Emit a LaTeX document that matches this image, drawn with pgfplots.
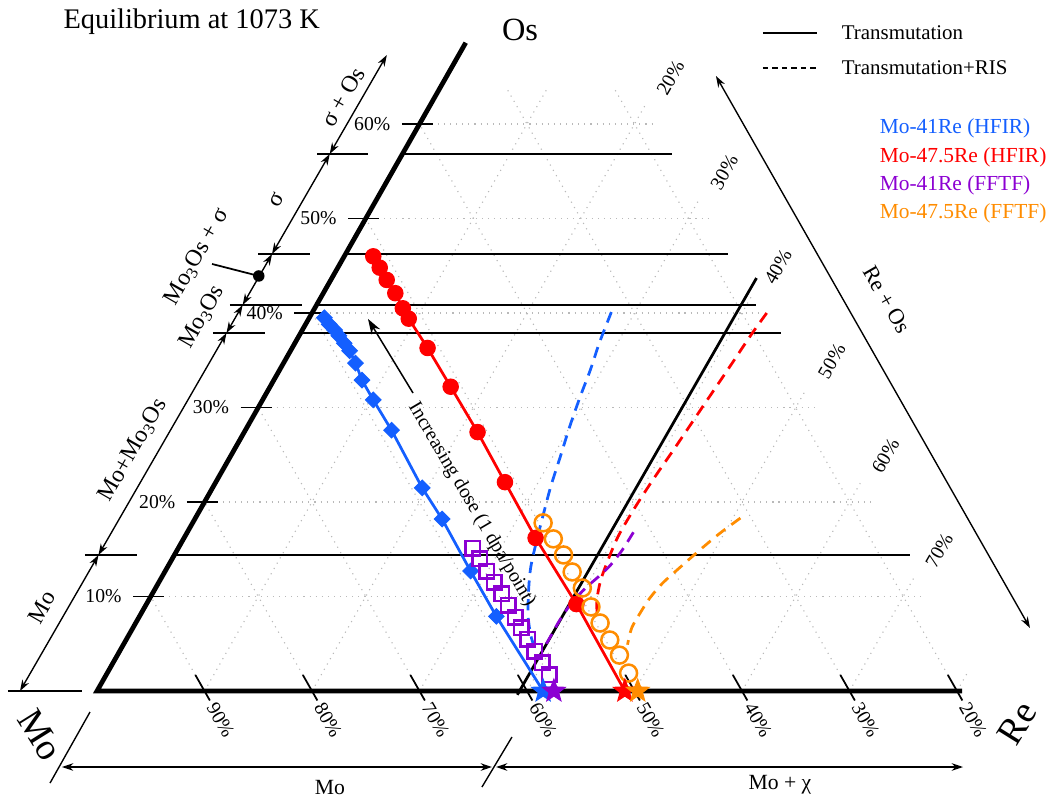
\documentclass[border=0pt]{standalone}
\usepackage{fontspec}
\setmainfont{Liberation Serif}
\usepackage{pgfplots}
\pgfplotsset{compat=1.18}
\usepackage{pgfplotstable}
\usetikzlibrary{arrows.meta}

\definecolor{cB}{RGB}{20,95,255}
\definecolor{cR}{RGB}{255,0,0}
\definecolor{cP}{RGB}{140,0,210}
\definecolor{cO}{RGB}{255,140,0}
\newcommand\fs[1]{\fontsize{#1}{#1}\selectfont}

\pgfdeclareplotmark{fstar}{%
  \pgfpathmoveto{\pgfpointpolar{90}{\pgfplotmarksize}}%
  \pgfpathlineto{\pgfpointpolar{126}{0.42\pgfplotmarksize}}%
  \pgfpathlineto{\pgfpointpolar{162}{\pgfplotmarksize}}%
  \pgfpathlineto{\pgfpointpolar{198}{0.42\pgfplotmarksize}}%
  \pgfpathlineto{\pgfpointpolar{234}{\pgfplotmarksize}}%
  \pgfpathlineto{\pgfpointpolar{270}{0.42\pgfplotmarksize}}%
  \pgfpathlineto{\pgfpointpolar{306}{\pgfplotmarksize}}%
  \pgfpathlineto{\pgfpointpolar{342}{0.42\pgfplotmarksize}}%
  \pgfpathlineto{\pgfpointpolar{18}{\pgfplotmarksize}}%
  \pgfpathlineto{\pgfpointpolar{54}{0.42\pgfplotmarksize}}%
  \pgfpathclose
  \pgfusepathqfillstroke
}

\pgfplotsset{/pgfplots/table/tern/.style={x expr=\thisrow{Re}+0.5*\thisrow{Os}, y=Os}}
\tikzset{
  grd/.style={gray!55, dotted, line width=0.45bp},
  ann/.style={black, line width=0.55bp},
  dbl/.style={ann, {Stealth[length=4.5bp,width=3bp]}-{Stealth[length=4.5bp,width=3bp]}},
  dsh/.style={line width=1.1bp, dash pattern=on 4.5bp off 3bp},
}

% Ternary compositions (at.%): Re, Os (Mo = 100 - Re - Os)
\pgfplotstableread{
Re Os
1.4 39.5
2.2 38.8
3.0 38.2
3.7 37.6
4.6 36.8
5.5 36.0
6.7 34.7
8.2 32.9
10.3 30.8
13.6 27.6
19.5 21.5
23.0 18.2
28.4 12.7
33.2 7.9
41.5 0
}\tabBH
\pgfplotstableread{
Re Os
2.7 46.0
3.9 44.8
5.2 43.5
6.7 42.1
8.2 40.5
9.3 39.4
12.6 36.3
16.8 32.2
21.7 27.4
26.9 22.1
32.7 16.2
40.0 9.2
49.1 0
}\tabRH
\pgfplotstableread{
Re Os
27.4 15.1
28.6 14.0
29.9 12.7
31.2 11.5
32.5 10.3
33.7 9.1
35.0 7.8
36.1 6.7
37.3 5.5
38.6 4.2
39.9 3.0
41.2 1.7
42.5 0
}\tabPF
\pgfplotstableread{
Re Os
32.6 17.8
34.4 16.1
36.2 14.4
37.9 12.6
39.7 10.9
41.5 8.9
43.2 7.2
45.0 5.4
46.7 3.8
48.5 1.9
50.3 0
}\tabOF
\pgfplotstableread{
Re Os
27.8 40.1
28.3 36.9
28.9 34.0
29.4 31.0
30.0 27.9
30.7 24.8
31.4 21.6
32.2 18.6
33.0 15.7
33.8 13.1
34.8 10.7
36.1 8.0
37.4 5.9
38.4 4.6
}\tabBD
\pgfplotstableread{
Re Os
42.3 40.0
42.0 37.7
41.7 34.3
41.3 30.1
40.9 25.8
40.6 23.0
40.4 20.6
40.3 18.6
40.3 16.3
40.6 13.9
41.0 11.7
41.7 9.6
42.7 7.7
}\tabRD
\pgfplotstableread{
Re Os
41.5 16.8
41.4 14.9
41.1 13.3
40.6 12.1
40.0 10.9
39.5 9.4
39.3 7.5
39.3 5.7
39.3 4.3
}\tabPD
\pgfplotstableread{
Re Os
50.7 18.3
49.6 16.7
48.6 14.9
47.7 13.1
46.9 11.4
46.5 9.8
46.4 8.3
46.4 6.7
46.9 4.9
}\tabOD

\begin{document}
\begin{tikzpicture}
\begin{axis}[
  width=420bp, height=318bp, scale only axis,
  xmin=-9.023, xmax=88.651, ymin=-11.005, ymax=73.122,
  hide axis, clip=false,
]
% ---- dotted grid ----
\draw[grd] (5,10)--(77,10); \draw[grd] (10,20)--(72,20); \draw[grd] (15,30)--(67,30);
\draw[grd] (20,40)--(62,40); \draw[grd] (25,50)--(57,50); \draw[grd] (30,60)--(52,60);
\draw[grd] (10,0)--(42,64); \draw[grd] (20,0)--(51,62); \draw[grd] (30,0)--(56,52);
\draw[grd] (40,0)--(61,42); \draw[grd] (50,0)--(66,32); \draw[grd] (60,0)--(71,22);
\draw[grd] (70,0)--(76,12); \draw[grd] (80,0)--(81,2);
\draw[grd] (10,0)--(5,10); \draw[grd] (20,0)--(10,20); \draw[grd] (30,0)--(15,30);
\draw[grd] (40,0)--(20,40); \draw[grd] (50,0)--(25,50); \draw[grd] (60,0)--(30,60);
\draw[grd] (70,0)--(38,64); \draw[grd] (80,0)--(48,64);

% ---- tie lines and phase boundary ----
\addplot[black, line width=1.1bp] coordinates {(28.415,56.83) (53.49,56.83)};
\addplot[black, line width=1.1bp] coordinates {(23.12,46.24) (58.70,46.24)};
\addplot[black, line width=1.1bp] coordinates {(20.425,40.85) (61.30,40.85)};
\addplot[black, line width=1.1bp] coordinates {(18.94,37.88) (63.63,37.88)};
\addplot[black, line width=1.1bp] coordinates {(7.195,14.39) (75.63,14.39)};
\addplot[black, line width=1.1bp] coordinates {(39.1,-0.4) (61.35,43.7)};

% ---- triangle edges ----
\draw[line width=1.9bp, line join=miter] (34.3,68.6) -- (0,0) -- (80.47,0);
% left ticks
\draw[ann, line width=0.7bp] (3.35,10)--(6.25,10); \draw[ann, line width=0.7bp] (8.35,20)--(11.25,20);
\draw[ann, line width=0.7bp] (13.35,30)--(16.25,30); \draw[ann, line width=0.7bp] (18.35,40)--(21.25,40);
\draw[ann, line width=0.7bp] (23.35,50)--(26.25,50); \draw[ann, line width=0.7bp] (28.35,60)--(31.25,60);
\node[anchor=east, font=\fs{7.9}] at (3.1,10) {10\%};
\node[anchor=east, font=\fs{7.9}] at (8.1,20) {20\%};
\node[anchor=east, font=\fs{7.9}] at (13.1,30) {30\%};
\node[anchor=east, font=\fs{7.9}] at (18.1,40) {40\%};
\node[anchor=east, font=\fs{7.9}] at (23.1,50) {50\%};
\node[anchor=east, font=\fs{7.9}] at (28.1,60) {60\%};
% bottom ticks
\draw[ann, line width=0.7bp] (9.15,1.7)--(10.5,-1.0); \draw[ann, line width=0.7bp] (19.15,1.7)--(20.5,-1.0);
\draw[ann, line width=0.7bp] (29.15,1.7)--(30.5,-1.0); \draw[ann, line width=0.7bp] (39.15,1.7)--(40.5,-1.0);
\draw[ann, line width=0.7bp] (49.15,1.7)--(50.5,-1.0); \draw[ann, line width=0.7bp] (59.15,1.7)--(60.5,-1.0);
\draw[ann, line width=0.7bp] (69.15,1.7)--(70.5,-1.0); \draw[ann, line width=0.7bp] (79.15,1.7)--(80.5,-1.0);
\node[rotate=-60, font=\fs{7.9}] at (11.5,-3.1) {90\%};
\node[rotate=-60, font=\fs{7.9}] at (21.5,-3.1) {80\%};
\node[rotate=-60, font=\fs{7.9}] at (31.5,-3.1) {70\%};
\node[rotate=-60, font=\fs{7.9}] at (41.5,-3.1) {60\%};
\node[rotate=-60, font=\fs{7.9}] at (51.5,-3.1) {50\%};
\node[rotate=-60, font=\fs{7.9}] at (61.5,-3.1) {40\%};
\node[rotate=-60, font=\fs{7.9}] at (71.5,-3.1) {30\%};
\node[rotate=-60, font=\fs{7.9}] at (81.5,-3.1) {20\%};
% right (Re) labels
\node[rotate=60, font=\fs{7.9}] at (53.35,64.9) {20\%};
\node[rotate=60, font=\fs{7.9}] at (58.35,54.9) {30\%};
\node[rotate=60, font=\fs{7.9}] at (63.35,44.9) {40\%};
\node[rotate=60, font=\fs{7.9}] at (68.35,34.9) {50\%};
\node[rotate=60, font=\fs{7.9}] at (73.35,24.9) {60\%};
\node[rotate=60, font=\fs{7.9}] at (78.35,14.9) {70\%};

% ---- RIS (dashed) paths ----
\addplot[cB, dsh, smooth] table[tern] {\tabBD};
\addplot[cR, dsh, smooth] table[tern] {\tabRD};
\addplot[cP, dsh, smooth] table[tern] {\tabPD};
\addplot[cO, dsh, smooth] table[tern] {\tabOD};

% ---- transmutation paths ----
\addplot[cB, line width=1.1bp] table[tern] {\tabBH};
\addplot[cR, line width=1.1bp] table[tern] {\tabRH};
\addplot[cB, only marks, mark=square*, mark size=2.2bp, mark options={rotate=45}, skip coords between index={14}{15}] table[tern] {\tabBH};
\addplot[cR, only marks, mark=*, mark size=3.1bp, skip coords between index={12}{13}] table[tern] {\tabRH};
\addplot[cP, only marks, mark=square, mark size=2.9bp, mark options={fill=white, line width=1bp}, skip coords between index={12}{13}] table[tern] {\tabPF};
\addplot[cO, only marks, mark=o, mark size=3.4bp, mark options={fill=white, line width=1bp}, skip coords between index={10}{11}] table[tern] {\tabOF};
% starting compositions (last row of each table)
\addplot[cB, only marks, mark=fstar, mark size=4.8bp, skip coords between index={0}{14}] table[tern] {\tabBH};
\addplot[cP, only marks, mark=fstar, mark size=4.8bp, skip coords between index={0}{12}] table[tern] {\tabPF};
\addplot[cR, only marks, mark=fstar, mark size=4.8bp, skip coords between index={0}{12}] table[tern] {\tabRH};
\addplot[cO, only marks, mark=fstar, mark size=4.8bp, skip coords between index={0}{10}] table[tern] {\tabOF};

% ---- dose arrow ----
\draw[ann, line width=0.6bp, -{Stealth[length=6bp,width=4bp]}] (29.40,31.53) -- (25.21,39.37);
\node[rotate=-59.5, font=\fs{8}] at (34.85,19.7) {Increasing dose (1 dpa/point)};

% ---- phase field annotation on the left ----
\draw[dbl] (-7.16,0) -- (0.136,14.39);
\draw[dbl] (0.136,14.39) -- (12.045,37.88);
\draw[dbl] (12.045,37.88) -- (13.55,40.85);
\draw[dbl] (13.55,40.85) -- (16.28,46.24);
\draw[dbl] (16.28,46.24) -- (21.65,56.83);
\draw[dbl] (21.65,56.83) -- (26.96,67.3);
\draw[ann, line width=0.7bp] (-8.3,0)--(-1.4,0);
\draw[ann, line width=0.7bp] (-1.12,14.39)--(3.72,14.39);
\draw[ann, line width=0.7bp] (10.79,37.88)--(15.63,37.88);
\draw[ann, line width=0.7bp] (12.37,40.85)--(19.07,40.85);
\draw[ann, line width=0.7bp] (14.98,46.24)--(19.81,46.24);
\draw[ann, line width=0.7bp] (20.47,56.83)--(25.21,56.83);
\draw[ann, line width=0.7bp] (10.70,45.19) -- (15.05,43.92);
\fill (15.05,43.92) circle[radius=2.3bp];
\node[rotate=60, font=\fs{9.5}] at (-5.12,8.89) {Mo};
\node[rotate=60, font=\fs{9.5}] at (3.35,25.50) {Mo+Mo\textsubscript{3}Os};
\node[rotate=60, font=\fs{9.5}] at (9.77,39.58) {Mo\textsubscript{3}Os};
\node[rotate=60, font=\fs{9.5}] at (9.30,45.93) {Mo\textsubscript{3}Os + σ};
\node[rotate=60, font=\fs{9.5}] at (16.74,51.96) {σ};
\node[rotate=60, font=\fs{9.5}] at (22.88,62.86) {σ + Os};

% ---- right arrow ----
\draw[dbl] (57.58,65.08) -- (86.79,6.67);
\node[rotate=-60, font=\fs{9}] at (73.49,41.38) {Re + Os};

% ---- bottom arrows ----
\draw[dbl] (-3.26,-8.04) -- (36.74,-8.04);
\draw[dbl] (37.12,-8.04) -- (80.56,-8.04);
\draw[ann] (-4.37,-9.74) -- (-0.65,-2.22);
\draw[ann] (35.81,-10.16) -- (38.6,-4.87);
\node[font=\fs{8.7}] at (21.67,-10.16) {Mo};
\node[font=\fs{8.7}] at (63.53,-9.95) {Mo + χ};

% ---- corner labels and title ----
\node[font=\fs{13}] at (39.35,69.95) {Os};
\node[rotate=-58, font=\fs{15}] at (-5.30,-4.66) {Mo};
\node[rotate=58, font=\fs{15}] at (85.58,-3.39) {Re};
\node[anchor=west, inner sep=0pt, font=\fs{11.4}] at (-3.16,70.8) {Equilibrium at 1073 K};

% ---- legend ----
\draw[line width=0.6bp] (61.95,69.63) -- (66.98,69.63);
\node[anchor=west, font=\fs{8.4}] at (68.47,69.63) {Transmutation};
\draw[line width=0.6bp, dash pattern=on 2.2bp off 1.6bp] (61.95,65.93) -- (66.98,65.93);
\node[anchor=west, font=\fs{8.4}] at (68.47,65.93) {Transmutation+RIS};
\node[anchor=west, font=\fs{8.6}, text=cB] at (72.0,59.58) {Mo-41Re (HFIR)};
\node[anchor=west, font=\fs{8.6}, text=cR] at (72.0,56.51) {Mo-47.5Re (HFIR)};
\node[anchor=west, font=\fs{8.6}, text=cP] at (72.0,53.54) {Mo-41Re (FFTF)};
\node[anchor=west, font=\fs{8.6}, text=cO] at (72.0,50.58) {Mo-47.5Re (FFTF)};
\end{axis}
\pgfresetboundingbox
\path (current axis.south west) rectangle (current axis.north east);
\end{tikzpicture}
\end{document}
